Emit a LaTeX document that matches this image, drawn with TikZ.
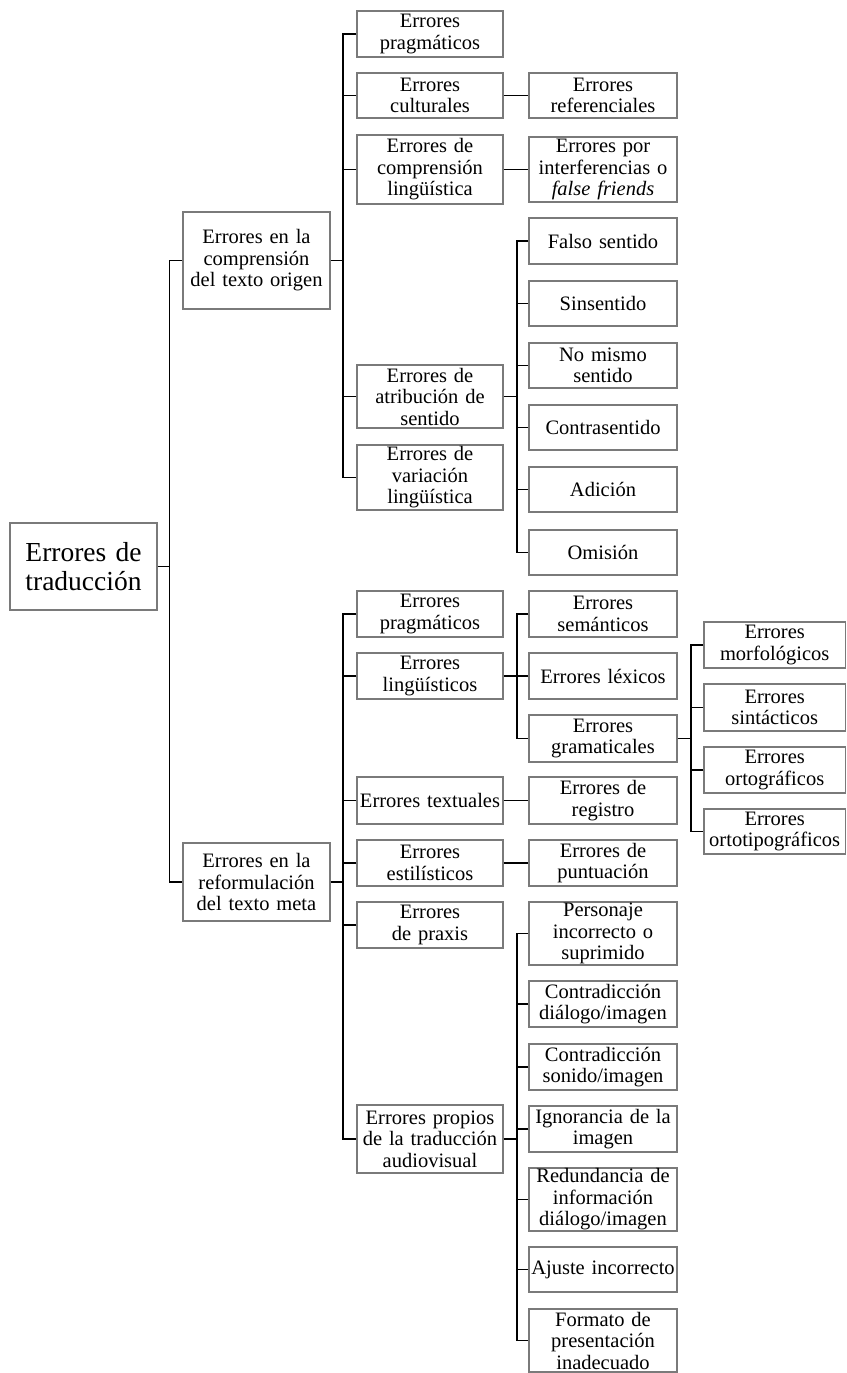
\documentclass[tikz,border=0pt]{standalone}
\usepackage{fontspec}
\setmainfont{Liberation Serif}
\definecolor{boxgray}{HTML}{7A7A7A}
\tikzset{
  bx/.style={draw=boxgray, line width=1.2pt, fill=white, inner sep=0pt, align=center,
    font=\fontsize{20.5}{21.5}\selectfont, text=black},
  conn/.style={draw=black, line width=1.9pt},
}
% \B{name}{left}{top}{right}{bottom}{text}
\newcommand{\B}[6]{\node[bx, minimum width=#4-#2, minimum height=#5-#3, text width=#4-#2-2] (#1) at ({(#2+#4)/2},{(#3+#5)/2}) {#6};}
\newcommand{\rootline}{\setbox0\hbox{traducción}\makebox[\wd0][s]{Errores de}}
\begin{document}
\begin{tikzpicture}[x=1pt,y=-1pt]
\useasboundingbox (0,0) rectangle (846,1373);
\coordinate (b0) at (169.5,0);
\coordinate (b1) at (343,0);
\coordinate (b2) at (517,0);
\coordinate (b3) at (691,0);
% root
\node[bx, font=\fontsize{27.5}{29}\selectfont, minimum width=147, minimum height=87, text width=140] (root) at (83.5,566.5) {\rootline\\traducción};
% level 1
\B{ul1}{183}{212}{330}{309}{Errores en la\\comprensión\\del texto origen}
\B{ll1}{183}{843}{330}{921}{Errores en la\\reformulación\\del texto meta}
% upper level 2
\B{upra}{357}{11}{503}{57}{Errores\\pragmáticos}
\B{ucul}{357}{73}{503}{118}{Errores\\culturales}
\B{ucom}{357}{135}{503}{204}{Errores de\\comprensión\\lingüística}
\B{uatr}{357}{365}{503}{428}{Errores de\\atribución de\\sentido}
\B{uvar}{357}{445}{503}{510}{Errores de\\variación\\lingüística}
% upper column B
\B{uref}{529}{73}{677}{118}{Errores\\referenciales}
\B{ufal}{529}{137}{677}{202}{Errores por\\interferencias o\\\textit{false friends}}
\B{fs}{529}{218}{677}{264}{Falso sentido}
\B{sin}{529}{281}{677}{326}{Sinsentido}
\B{nms}{529}{343}{677}{388}{No mismo\\sentido}
\B{con}{529}{405}{677}{450}{Contrasentido}
\B{adi}{529}{467}{677}{512}{Adición}
\B{omi}{529}{530}{677}{575}{Omisión}
% lower level 2
\B{lpra}{357}{591}{503}{637}{Errores\\pragmáticos}
\B{llin}{357}{653}{503}{699}{Errores\\lingüísticos}
\B{ltex}{357}{777}{503}{824}{Errores textuales}
\B{lest}{357}{840}{503}{886}{Errores\\estilísticos}
\B{lpx}{357}{902}{503}{948}{Errores\\de praxis}
\B{laud}{357}{1105}{503}{1173}{Errores propios\\de la traducción\\audiovisual}
% lower column B
\B{sem}{529}{591}{677}{637}{Errores\\semánticos}
\B{lex}{529}{653}{677}{699}{Errores léxicos}
\B{gra}{529}{715}{677}{762}{Errores\\gramaticales}
\B{reg}{529}{777}{677}{824}{Errores de\\registro}
\B{pun}{529}{840}{677}{886}{Errores de\\puntuación}
\B{per}{529}{902}{677}{965}{Personaje\\incorrecto o\\suprimido}
\B{cdi}{529}{981}{677}{1027}{Contradicción\\diálogo/imagen}
\B{cso}{529}{1044}{677}{1090}{Contradicción\\sonido/imagen}
\B{ign}{529}{1106}{677}{1152}{Ignorancia de la\\imagen}
\B{red}{529}{1168}{677}{1231}{Redundancia de\\información\\diálogo/imagen}
\B{aju}{529}{1247}{677}{1292}{Ajuste incorrecto}
\B{for}{529}{1309}{677}{1372}{Formato de\\presentación\\inadecuado}
% column C
\B{mor}{704}{622}{845.4}{668}{Errores\\morfológicos}
\B{sint}{704}{684}{845.4}{731}{Errores\\sintácticos}
\B{ortg}{704}{747}{845.4}{793}{Errores\\ortográficos}
\B{ortt}{704}{809}{845.4}{854}{Errores\\ortotipográficos}
% connectors: root
\draw[conn] (root.east) -- (root.east -| b0);
\draw[conn] (ul1.west) -- (ul1.west -| b0) |- (ll1.west);
% upper level 1 -> level 2
\draw[conn] (ul1.east) -- (ul1.east -| b1);
\draw[conn] (upra.west) -- (upra.west -| b1) |- (uvar.west);
\draw[conn] (ucul.west) -- (ucul.west -| b1);
\draw[conn] (ucom.west) -- (ucom.west -| b1);
\draw[conn] (uatr.west) -- (uatr.west -| b1);
\draw[conn] (ucul.east) -- (uref.west);
\draw[conn] (ucom.east) -- (ufal.west);
% atribucion
\draw[conn] (uatr.east) -- (uatr.east -| b2);
\draw[conn] (fs.west) -- (fs.west -| b2) |- (omi.west);
\draw[conn] (sin.west) -- (sin.west -| b2);
\draw[conn] (nms.west) -- (nms.west -| b2);
\draw[conn] (con.west) -- (con.west -| b2);
\draw[conn] (adi.west) -- (adi.west -| b2);
% lower level 1 -> level 2
\draw[conn] (ll1.east) -- (ll1.east -| b1);
\draw[conn] (lpra.west) -- (lpra.west -| b1) |- (laud.west);
\draw[conn] (llin.west) -- (llin.west -| b1);
\draw[conn] (ltex.west) -- (ltex.west -| b1);
\draw[conn] (lest.west) -- (lest.west -| b1);
\draw[conn] (lpx.west) -- (lpx.west -| b1);
% linguisticos
\draw[conn] (llin.east) -- (llin.east -| b2);
\draw[conn] (sem.west) -- (sem.west -| b2) |- (gra.west);
\draw[conn] (lex.west) -- (lex.west -| b2);
% gramaticales
\draw[conn] (gra.east) -- (gra.east -| b3);
\draw[conn] (mor.west) -- (mor.west -| b3) |- (ortt.west);
\draw[conn] (sint.west) -- (sint.west -| b3);
\draw[conn] (ortg.west) -- (ortg.west -| b3);
% textuales, estilisticos
\draw[conn] (ltex.east) -- (reg.west);
\draw[conn] (lest.east) -- (pun.west);
% audiovisual
\draw[conn] (laud.east) -- (laud.east -| b2);
\draw[conn] (per.west) -- (per.west -| b2) |- (for.west);
\draw[conn] (cdi.west) -- (cdi.west -| b2);
\draw[conn] (cso.west) -- (cso.west -| b2);
\draw[conn] (ign.west) -- (ign.west -| b2);
\draw[conn] (red.west) -- (red.west -| b2);
\draw[conn] (aju.west) -- (aju.west -| b2);
\end{tikzpicture}
\end{document}
